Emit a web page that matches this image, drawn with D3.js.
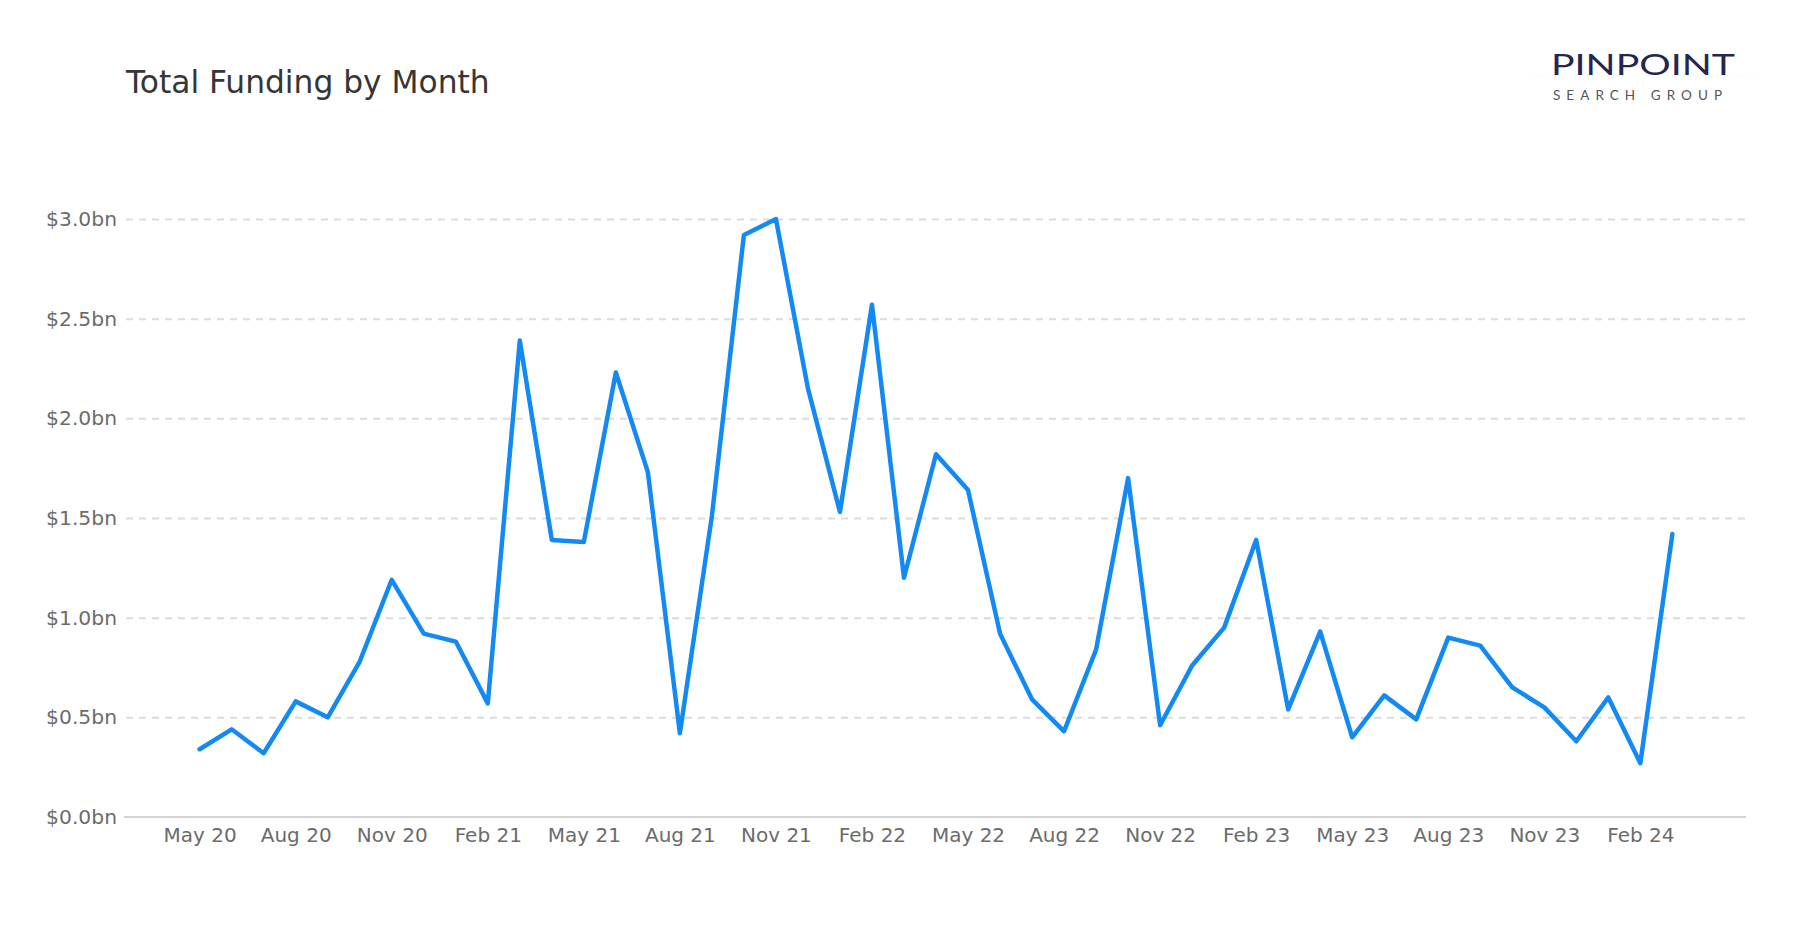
<!DOCTYPE html>
<html>
<head>
<meta charset="utf-8">
<script src="https://cdn.jsdelivr.net/npm/d3@7"></script>
<style>
  body { margin: 0; background: #fff; }
  svg { display: block; font-family: "DejaVu Sans", sans-serif; }
</style>
</head>
<body>
<div class="canva"></div>
<script>
// monthly funding, May 2020 .. Mar 2024 ($bn)
const months = [
  "2020-05","2020-06","2020-07","2020-08","2020-09","2020-10","2020-11","2020-12",
  "2021-01","2021-02","2021-03","2021-04","2021-05","2021-06","2021-07","2021-08","2021-09","2021-10","2021-11","2021-12",
  "2022-01","2022-02","2022-03","2022-04","2022-05","2022-06","2022-07","2022-08","2022-09","2022-10","2022-11","2022-12",
  "2023-01","2023-02","2023-03","2023-04","2023-05","2023-06","2023-07","2023-08","2023-09","2023-10","2023-11","2023-12",
  "2024-01","2024-02","2024-03"
];
const funding = [
  0.34, 0.44, 0.32, 0.58, 0.50, 0.78, 1.19, 0.92,
  0.88, 0.57, 2.39, 1.39, 1.38, 2.23, 1.73, 0.42, 1.51, 2.92, 3.00, 2.15,
  1.53, 2.57, 1.20, 1.82, 1.64, 0.92, 0.59, 0.43, 0.84, 1.70, 0.46, 0.76,
  0.95, 1.39, 0.54, 0.93, 0.40, 0.61, 0.49, 0.90, 0.86, 0.65, 0.55, 0.38,
  0.60, 0.27, 1.42
];
const yTicks = [0, 0.5, 1.0, 1.5, 2.0, 2.5, 3.0];
const xTickMonths = months.filter((m, i) => i % 3 === 0);

const width = 1800, height = 930;
const margin = { top: 219, right: 54, bottom: 113, left: 126 };

const parse = d3.timeParse("%Y-%m");
const fmt = d3.timeFormat("%b %y");

const data = months.map((m, i) => ({ month: m, value: funding[i] }));

const svg = d3.select(".canva").append("svg")
    .attr("width", width)
    .attr("height", height)
    .attr("viewBox", [0, 0, width, height]);

svg.append("rect").attr("width", width).attr("height", height).attr("fill", "#fff");

const x = d3.scalePoint(months, [margin.left, width - margin.right]).padding(2.3);
const y = d3.scaleLinear([0, 3], [height - margin.bottom, margin.top]);

// gridlines + y labels
svg.append("g")
    .attr("transform", `translate(${margin.left}, 0)`)
    .call(d3.axisLeft(y).tickValues(yTicks).tickSize(0).tickPadding(9)
        .tickFormat(d => `$${d.toFixed(1)}bn`))
    .call(g => g.select(".domain").remove())
    .call(g => g.selectAll(".tick text")
        .attr("fill", "#6b6b6b")
        .attr("font-size", 20.3)
        .attr("font-family", "DejaVu Sans"))
    .call(g => g.selectAll(".tick").filter(d => d > 0).append("line")
        .attr("x2", width - margin.left - margin.right)
        .attr("stroke", "#dcdcdc")
        .attr("stroke-width", 2)
        .attr("stroke-dasharray", "7,6"));

// x axis
svg.append("g")
    .attr("transform", `translate(0, ${height - margin.bottom})`)
    .call(d3.axisBottom(x).tickValues(xTickMonths).tickSize(0).tickPadding(11)
        .tickFormat(m => fmt(parse(m))))
    .call(g => g.select(".domain")
        .attr("d", `M${margin.left - 2},0H${width - margin.right}`)
        .attr("stroke", "#c4c4c4")
        .attr("stroke-width", 1.5))
    .call(g => g.selectAll(".tick text")
        .attr("fill", "#6b6b6b")
        .attr("font-size", 20)
        .attr("font-family", "DejaVu Sans"));

const line = d3.line()
    .x(d => x(d.month))
    .y(d => y(d.value));

svg.append("path")
    .attr("d", line(data))
    .attr("fill", "none")
    .attr("stroke", "#138af3")
    .attr("stroke-width", 4.5)
    .attr("stroke-linejoin", "round")
    .attr("stroke-linecap", "round");

// title
svg.append("text")
    .attr("x", 126)
    .attr("y", 93)
    .attr("fill", "#363636")
    .attr("font-size", 31.3)
    .text("Total Funding by Month");

// logo
const logo = svg.append("g");
logo.append("line")
    .attr("x1", 1532).attr("x2", 1756)
    .attr("y1", 76).attr("y2", 76)
    .attr("stroke", "#eeeeee")
    .attr("stroke-dasharray", "1,4");
logo.append("text")
    .attr("x", 1551)
    .attr("y", 75)
    .attr("textLength", 184)
    .attr("lengthAdjust", "spacingAndGlyphs")
    .attr("font-family", "Lato, sans-serif")
    .attr("font-weight", 400)
    .attr("font-size", 28)
    .attr("fill", "#24264e")
    .text("PINPOINT");
logo.append("text")
    .attr("x", 1553)
    .attr("y", 100)
    .attr("textLength", 169)
    .attr("lengthAdjust", "spacing")
    .attr("font-family", "Lato, sans-serif")
    .attr("font-size", 13.5)
    .attr("fill", "#555")
    .text("SEARCH GROUP");
</script>
</body>
</html>
